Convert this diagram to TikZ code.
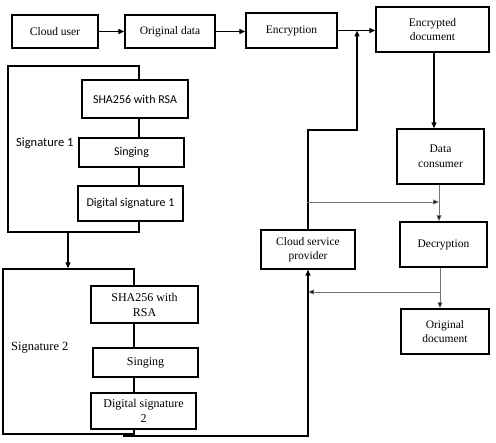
\documentclass[tikz,border=0pt]{standalone}
\usepackage{fontspec}
\setmainfont{Liberation Serif}
\newfontfamily\calibri{Carlito}
\usetikzlibrary{arrows.meta}
\begin{document}
\begin{tikzpicture}[x=1pt,y=-1pt,
  box/.style={draw=black,line width=1.4pt,fill=white,inner sep=1pt,align=center,
    font=\fontsize{11.5}{14.5}\selectfont},
  sbox/.style={box,font=\calibri\fontsize{12}{14.5}\selectfont},
  tbox/.style={box,font=\fontsize{12}{15}\selectfont},
  frame/.style={draw=black,line width=1.4pt,inner sep=0pt},
  conn/.style={line width=1.3pt,-{Triangle[length=6pt,width=5pt]}},
  gconn/.style={draw=black!55,line width=0.8pt,-{Triangle[length=6pt,width=5pt,fill=black]}},
  bconn/.style={line width=1.3pt}]
\useasboundingbox (0,0) rectangle (496,443);
\fill[white] (0,0) rectangle (496,443);

% frames
\node[frame,minimum width=131pt,minimum height=166pt] (f1) at (73.5,149) {};
\node[frame,minimum width=131pt,minimum height=165pt] (f2) at (68.5,351.5) {};
\node[font=\calibri\fontsize{12.5}{15}\selectfont,anchor=west,inner sep=0pt] (l1) at (16,143) {Signature 1};
\node[font=\fontsize{12.5}{15}\selectfont,anchor=west,inner sep=0pt] (l2) at (11,348) {Signature 2};

% top row
\node[box,minimum width=86pt,minimum height=33pt] (cu) at (55,31.5) {Cloud user};
\node[box,minimum width=90pt,minimum height=33pt] (od) at (170,31.5) {Original data};
\node[box,minimum width=91pt,minimum height=35pt] (enc) at (291.5,30.5) {Encryption};
\node[box,minimum width=113pt,minimum height=45pt] (ed) at (432.5,29.5) {Encrypted\\document};

% signature 1
\node[sbox,minimum width=106pt,minimum height=38pt] (sha1) at (135,99) {SHA256 with RSA};
\node[sbox,minimum width=105pt,minimum height=29pt] (sing1) at (131.5,152.5) {Singing};
\node[sbox,minimum width=105pt,minimum height=35pt] (ds1) at (130.5,203.5) {Digital signature 1};

% signature 2
\node[tbox,minimum width=107pt,minimum height=37pt] (sha2) at (144.5,304.5) {SHA256 with\\RSA};
\node[tbox,minimum width=105pt,minimum height=29pt] (sing2) at (145.5,362.5) {Singing};
\node[tbox,minimum width=105pt,minimum height=36pt] (ds2) at (143.5,411) {Digital signature\\2};

% right side
\node[box,minimum width=87pt,minimum height=55pt] (dc) at (440.5,156.5) {Data\\consumer};
\node[box,minimum width=87pt,minimum height=45pt] (dec) at (443.5,244.5) {Decryption};
\node[box,minimum width=94pt,minimum height=39pt] (csp) at (308,249.5) {Cloud service\\provider};
\node[box,minimum width=88pt,minimum height=45pt] (odoc) at (445,331.5) {Original\\document};

% helper coordinates
\coordinate (j1) at (357,30.5);
\coordinate (y130) at (0,130);
\coordinate (x434) at (434,0);
\coordinate (x439) at (439,0);
\coordinate (x440) at (440,0);
\coordinate (g1) at (307,202);
\coordinate (g2) at (440,292);
\coordinate (b1) at (123,436);

% connectors
\draw[conn] (cu.east) -- (od.west);
\draw[conn] (od.east) -- (od.east -| enc.west);
\draw[conn] (enc.east) -- (enc.east -| ed.west);
\draw[conn] (csp.north) -- (csp.north |- y130) -| (j1);
\draw[conn] (ed.south -| x434) -- (dc.north -| x434);
\draw[conn] ([xshift=-5.5pt]f1.south) -- ([xshift=-5.5pt]f1.south |- f2.north);
\draw[gconn] (dc.south -| x439) -- (dec.north -| x439);
\draw[gconn] (g1) -- (g1 -| x439);
\draw[gconn] (dec.south -| x440) -- (odoc.north -| x440);
\draw[gconn] (g2) -- (g2 -| csp.south);
\draw[conn] (b1) -- (b1 -| csp.south) -- (csp.south);
\end{tikzpicture}
\end{document}
